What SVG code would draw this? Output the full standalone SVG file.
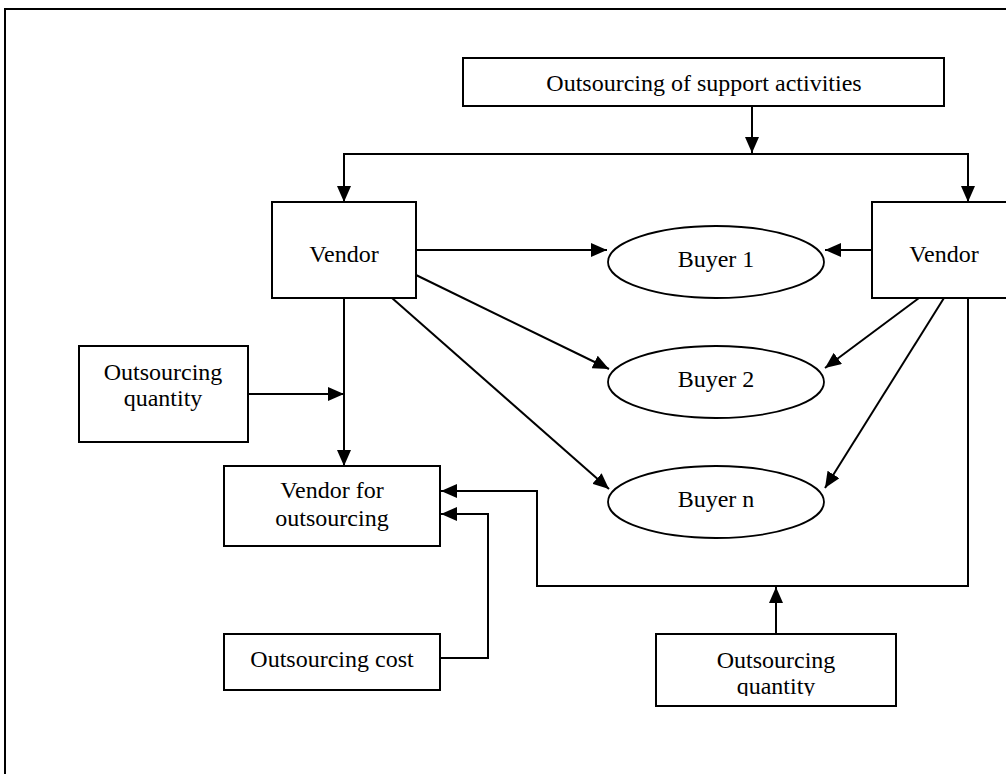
<svg xmlns="http://www.w3.org/2000/svg" width="1006" height="774" viewBox="0 0 1006 774">
<style>
.box{fill:#fff;stroke:#000;stroke-width:2}
.ell{fill:#fff;stroke:#000;stroke-width:1.8}
.t{font-family:"Liberation Serif","Times New Roman",serif;font-size:24px;fill:#000;text-anchor:middle}
.c{fill:none;stroke:#000;stroke-width:2}
</style>
<defs>
<marker id="ah" markerUnits="userSpaceOnUse" markerWidth="16" markerHeight="14" refX="16" refY="7" orient="auto">
<path d="M0,0 L16,7 L0,14 z" fill="#000"/>
</marker>
<clipPath id="clipq"><rect x="650" y="620" width="260" height="76"/></clipPath>
</defs>
<rect x="0" y="0" width="1006" height="774" fill="#fff"/>
<rect x="5" y="9" width="1010" height="800" fill="none" stroke="#000" stroke-width="2"/>

<g id="connectors">
<line class="c" x1="752" y1="106" x2="752" y2="153" marker-end="url(#ah)"/>
<polyline class="c" points="344,201 344,154 968,154 968,201"/>
<line class="c" x1="344" y1="154" x2="344" y2="202" marker-end="url(#ah)"/>
<line class="c" x1="968" y1="154" x2="968" y2="202" marker-end="url(#ah)"/>
<line class="c" x1="416" y1="250" x2="607" y2="250" marker-end="url(#ah)"/>
<line class="c" x1="416" y1="275" x2="609" y2="369" marker-end="url(#ah)"/>
<line class="c" x1="392" y1="298" x2="609" y2="489" marker-end="url(#ah)"/>
<line class="c" x1="872" y1="250" x2="825" y2="250" marker-end="url(#ah)"/>
<line class="c" x1="919" y1="298" x2="825" y2="368" marker-end="url(#ah)"/>
<line class="c" x1="944" y1="298" x2="825" y2="488" marker-end="url(#ah)"/>
<line class="c" x1="344" y1="298" x2="344" y2="466" marker-end="url(#ah)"/>
<line class="c" x1="248" y1="394" x2="344" y2="394" marker-end="url(#ah)"/>
<polyline class="c" points="968,298 968,586 537,586 537,491 441,491" marker-end="url(#ah)"/>
<polyline class="c" points="441,658 488,658 488,514 441,514" marker-end="url(#ah)"/>
<line class="c" x1="776" y1="634" x2="776" y2="587" marker-end="url(#ah)"/>
</g>

<g id="support">
<rect class="box" x="463" y="58" width="481" height="48"/>
<text class="t" x="704" y="91">Outsourcing of support activities</text>
</g>
<g id="vendor-left">
<rect class="box" x="272" y="202" width="144" height="96"/>
<text class="t" x="344" y="262">Vendor</text>
</g>
<g id="vendor-right">
<rect class="box" x="872" y="202" width="150" height="96"/>
<text class="t" x="944" y="262">Vendor</text>
</g>
<g id="buyer1">
<ellipse class="ell" cx="716" cy="262" rx="108" ry="36"/>
<text class="t" x="716" y="267">Buyer 1</text>
</g>
<g id="buyer2">
<ellipse class="ell" cx="716" cy="382" rx="108" ry="36"/>
<text class="t" x="716" y="387">Buyer 2</text>
</g>
<g id="buyern">
<ellipse class="ell" cx="716" cy="502" rx="108" ry="36"/>
<text class="t" x="716" y="507">Buyer n</text>
</g>
<g id="qty-left">
<rect class="box" x="79" y="346" width="169" height="96"/>
<text class="t" x="163" y="380">Outsourcing</text>
<text class="t" x="163" y="406">quantity</text>
</g>
<g id="vendor-outsourcing">
<rect class="box" x="224" y="466" width="216" height="80"/>
<text class="t" x="332" y="498">Vendor for</text>
<text class="t" x="332" y="526">outsourcing</text>
</g>
<g id="cost">
<rect class="box" x="224" y="634" width="216" height="56"/>
<text class="t" x="332" y="667">Outsourcing cost</text>
</g>
<g id="qty-bottom">
<rect class="box" x="656" y="634" width="240" height="72"/>
<g clip-path="url(#clipq)">
<text class="t" x="776" y="668">Outsourcing</text>
<text class="t" x="776" y="694">quantity</text>
</g>
</g>
</svg>
